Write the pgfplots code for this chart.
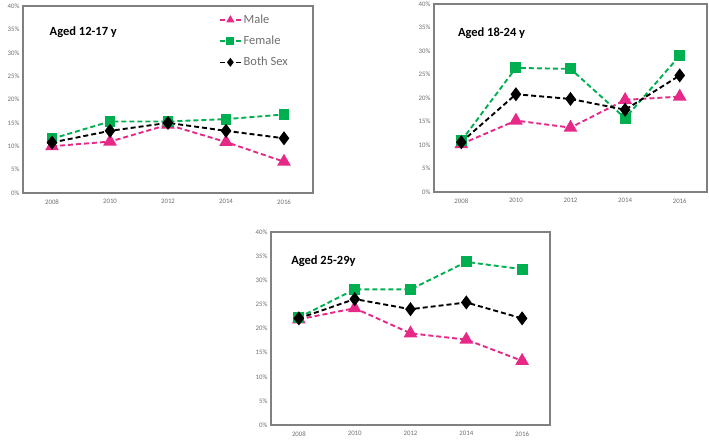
\documentclass[border=0pt]{standalone}
\usepackage{pgfplots}
\pgfplotsset{compat=1.18}
\usepackage{fontspec}
\setmainfont{Carlito}
\definecolor{malec}{RGB}{230,40,135}
\definecolor{femalec}{RGB}{0,176,80}
\definecolor{tickgray}{RGB}{110,110,110}
\definecolor{framegray}{RGB}{128,128,128}
\tikzset{ttl/.style={anchor=west, font=\bfseries\fontsize{12.5}{14}\selectfont}}
\pgfplotsset{
  panel/.style={
    scale only axis, anchor=south west,
    xmin=2007, xmax=2017, ymin=0, ymax=40,
    xtick={2008,2010,2012,2014,2016}, ytick={0,5,...,40},
    major tick length=0pt,
    axis line style={framegray, line width=1.1pt},
    tick label style={font=\fontsize{6.8}{8}\selectfont, text=tickgray},
    /pgf/number format/assume math mode=true,
    /pgf/number format/set thousands separator={},
    yticklabel={\pgfmathprintnumber{\tick}\%},
    xticklabel style={yshift=-3pt},
    yticklabel style={xshift=0pt},
    clip=false,
    legend image code/.code={\draw[mark repeat=2,mark phase=2,##1,mark size=3.2pt,line width=1.6pt] plot coordinates {(0pt,0pt) (10.5pt,0pt) (21pt,0pt)};},
  },
  sm/.style={malec, line width=1.9pt, dash pattern=on 5pt off 3pt, mark=triangle*, mark size=6pt, mark options={solid}},
  sf/.style={femalec, line width=1.9pt, dash pattern=on 5pt off 3pt, mark=square*, mark size=4.5pt, mark options={solid}},
  sb/.style={black, line width=1.9pt, dash pattern=on 5pt off 3pt, mark=diamond*, mark size=5.5pt, mark options={solid}},
}
\begin{document}
\begin{tikzpicture}
\path[use as bounding box] (0pt,0pt) rectangle (709pt,440pt);
% Panel 1
\begin{axis}[panel, at={(23pt,247pt)}, width=290pt, height=187pt,
  legend style={at={(rel axis cs:0.665,0.975)}, anchor=north west, draw=none, fill=none,
    font=\fontsize{12.5}{14}\selectfont, text=tickgray, row sep=7pt,
    nodes={inner xsep=2pt}},
  legend cell align=left]
\addplot[sm] coordinates {(2008,10.0) (2010,11.0) (2012,14.6) (2014,10.9) (2016,6.7)};
\addlegendentry{Male}
\addplot[sf] coordinates {(2008,11.6) (2010,15.3) (2012,15.3) (2014,15.8) (2016,16.8)};
\addlegendentry{Female}
\addplot[sb] coordinates {(2008,10.8) (2010,13.3) (2012,15.0) (2014,13.3) (2016,11.7)};
\addlegendentry{Both Sex}
\node[ttl] at (rel axis cs:0.08,0.86) {Aged 12-17 y};
\end{axis}
% Panel 2
\begin{axis}[panel, at={(434pt,248pt)}, width=273pt, height=188pt]
\addplot[sm] coordinates {(2008,10.2) (2010,15.2) (2012,13.7) (2014,19.6) (2016,20.3)};
\addplot[sf] coordinates {(2008,10.9) (2010,26.4) (2012,26.2) (2014,15.7) (2016,29.0)};
\addplot[sb] coordinates {(2008,10.6) (2010,20.8) (2012,19.8) (2014,17.5) (2016,24.8)};
\node[ttl] at (rel axis cs:0.075,0.847) {Aged 18-24 y};
\end{axis}
% Panel 3
\begin{axis}[panel, at={(271pt,15pt)}, width=279pt, height=193pt]
\addplot[sm] coordinates {(2008,21.9) (2010,24.2) (2012,19.0) (2014,17.7) (2016,13.3)};
\addplot[sf] coordinates {(2008,22.3) (2010,28.1) (2012,28.1) (2014,33.8) (2016,32.3)};
\addplot[sb] coordinates {(2008,22.1) (2010,26.1) (2012,24.0) (2014,25.4) (2016,22.1)};
\node[ttl] at (rel axis cs:0.06,0.851) {Aged 25-29y};
\end{axis}
\end{tikzpicture}
\end{document}
